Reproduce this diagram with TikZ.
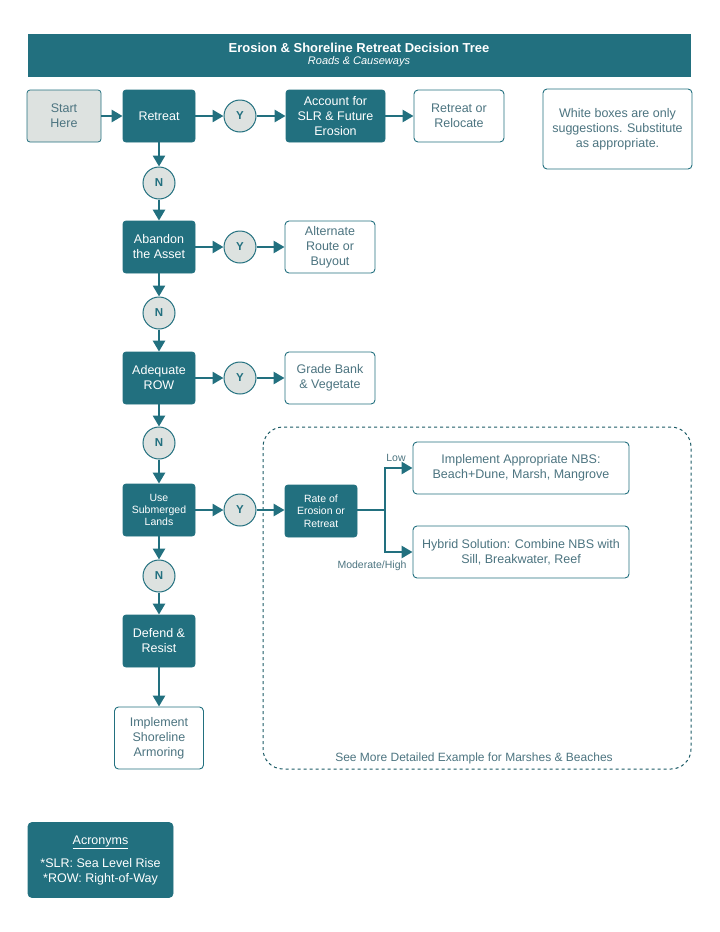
\documentclass[tikz,border=0pt]{standalone}
\usepackage{fontspec}
\setmainfont{Liberation Sans}
\usetikzlibrary{arrows.meta}
\definecolor{tealmain}{HTML}{22707F}
\definecolor{greyfill}{HTML}{DDE2E0}
\definecolor{textgrey}{HTML}{4C7480}
\begin{document}
\begin{tikzpicture}[x=1pt,y=-1pt,
  decision/.style={draw=tealmain,fill=tealmain,text=white,rounded corners=3pt,line width=0.8pt,
    minimum width=72pt,minimum height=52pt,align=center,inner sep=2pt,font=\fontsize{12.5}{15}\selectfont},
  small/.style={font=\fontsize{10.5}{12.3}\selectfont},
  option/.style={draw=tealmain,fill=white,text=textgrey,rounded corners=4pt,line width=0.9pt,
    minimum height=52pt,align=center,inner sep=2pt,font=\fontsize{12.5}{15}\selectfont},
  yn/.style={circle,draw=tealmain,fill=greyfill,line width=1pt,minimum size=32pt,inner sep=0pt,
    text=tealmain,font=\bfseries\fontsize{11.5}{13}\selectfont},
  link/.style={draw=tealmain,line width=2.6pt,-{Triangle[length=11pt,width=12pt]}},
  fork/.style={draw=tealmain,line width=2.6pt},
  note/.style={text=textgrey,font=\fontsize{10.5}{12}\selectfont}]
\useasboundingbox (0,0) rectangle (720,932);
\node[fill=tealmain,minimum width=663pt,minimum height=43pt,text=white,align=center,inner sep=0pt] (header) at (359,55)
  {{\fontsize{13}{15}\selectfont\bfseries Erosion \& Shoreline Retreat Decision Tree}\\
   {\fontsize{11}{13}\selectfont\itshape Roads \& Causeways}};
\draw[tealmain!80!black,line width=1pt,dashed,rounded corners=20pt] (263,427) rectangle (691,769);
\node[note,font=\fontsize{12}{13}\selectfont] (seemore) at (474,758) {See More Detailed Example for Marshes \& Beaches};

\node[decision,fill=greyfill,text=textgrey,minimum width=74pt] (start) at (64,116) {Start\\Here};
\node[decision] (retreat) at (159,116) {Retreat};
\node[yn] (y1) at (240,116) {Y};
\node[decision,minimum width=99pt] (account) at (335.5,116) {Account for\\SLR \& Future\\Erosion};
\node[option,minimum width=90pt] (relocate) at (459,116) {Retreat or\\Relocate};
\node[option,minimum width=149pt,minimum height=80pt] (whitenote) at (617.5,129) {White boxes are only\\suggestions. Substitute\\as appropriate.};

\node[yn] (n1) at (159,183) {N};
\node[decision] (abandon) at (159,247) {Abandon\\the Asset};
\node[yn] (y2) at (240,247) {Y};
\node[option,minimum width=90pt] (alternate) at (330,247) {Alternate\\Route or\\Buyout};

\node[yn] (n2) at (159,313) {N};
\node[decision] (adequate) at (159,378) {Adequate\\ROW};
\node[yn] (y3) at (240,378) {Y};
\node[option,minimum width=90pt] (grade) at (330,378) {Grade Bank\\\& Vegetate};

\node[yn] (n3) at (159,443) {N};
\node[decision,small] (submerged) at (159,510) {Use\\Submerged\\Lands};
\node[yn] (y4) at (240,510) {Y};
\node[decision,small] (rate) at (321,511) {Rate of\\Erosion or\\Retreat};
\node[option,minimum width=216pt] (nbs) at (521,468) {Implement Appropriate NBS:\\Beach+Dune, Marsh, Mangrove};
\node[option,minimum width=216pt] (hybrid) at (521,552) {Hybrid Solution: Combine NBS with\\Sill, Breakwater, Reef};
\node[note] (low) at (396,458) {Low};
\node[note] (modhigh) at (372,566) {Moderate/High};

\node[yn] (n4) at (159,576) {N};
\node[decision] (defend) at (159,641) {Defend \&\\Resist};
\node[option,minimum width=89pt,minimum height=62pt] (armor) at (159,738) {Implement\\Shoreline\\Armoring};

\node[decision,minimum width=145pt,minimum height=75pt,rounded corners=4pt] (acronyms) at (100.5,860)
  {\underline{Acronyms}\\[8pt]*SLR: Sea Level Rise\\{}*ROW: Right-of-Way};

\draw[link] (start) -- (retreat);
\draw[link] (retreat) -- (y1);
\draw[link] (y1) -- (account);
\draw[link] (account) -- (relocate);
\draw[link] (retreat) -- (n1);
\draw[link] (n1) -- (abandon);
\draw[link] (abandon) -- (y2);
\draw[link] (y2) -- (alternate);
\draw[link] (abandon) -- (n2);
\draw[link] (n2) -- (adequate);
\draw[link] (adequate) -- (y3);
\draw[link] (y3) -- (grade);
\draw[link] (adequate) -- (n3);
\draw[link] (n3) -- (submerged);
\draw[link] (submerged) -- (y4);
\draw[link] (y4) -- (rate.west |- y4);
\draw[fork] (rate.east |- y4) -- (385,510) coordinate (split);
\draw[link] (split) |- (nbs);
\draw[link] (split) |- (hybrid);
\draw[link] (submerged) -- (n4);
\draw[link] (n4) -- (defend);
\draw[link] (defend) -- (armor);
\end{tikzpicture}
\end{document}
